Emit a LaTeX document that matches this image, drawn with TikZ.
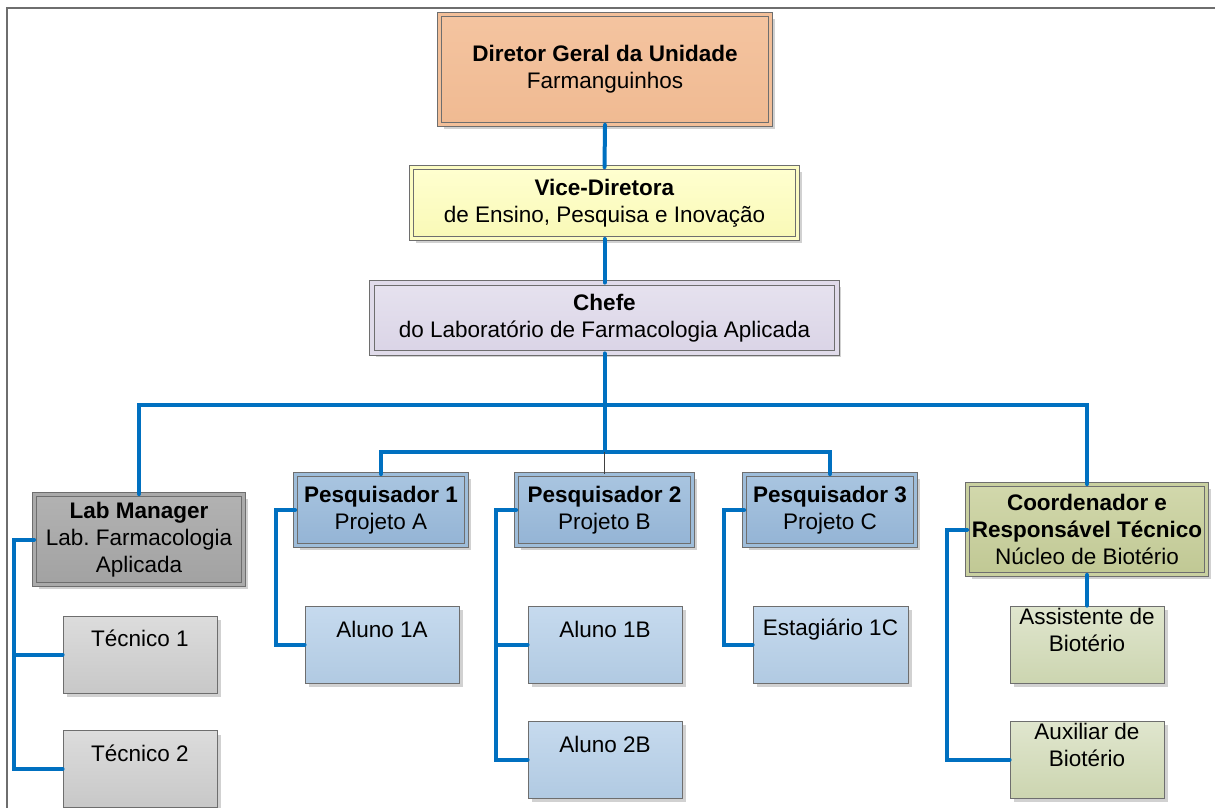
\documentclass[tikz,border=0pt]{standalone}
\usepackage{fontspec}
\setmainfont{Liberation Sans}
\usetikzlibrary{positioning,calc,shadows}
\frenchspacing

\definecolor{connblue}{HTML}{0070C0}
\definecolor{framegray}{HTML}{6E6E6E}
\definecolor{dirtop}{HTML}{F4C4A0}
\definecolor{dirbot}{HTML}{F0BA92}
\definecolor{vicetop}{HTML}{FFFFD0}
\definecolor{vicebot}{HTML}{F9F9B6}
\definecolor{cheftop}{HTML}{E6E2EF}
\definecolor{chefbot}{HTML}{DAD4E6}
\definecolor{labtop}{HTML}{B2B2B2}
\definecolor{labbot}{HTML}{A2A2A2}
\definecolor{tectop}{HTML}{DCDCDC}
\definecolor{tecbot}{HTML}{C8C8C8}
\definecolor{pestop}{HTML}{A9C5E0}
\definecolor{pesbot}{HTML}{94B4D5}
\definecolor{alutop}{HTML}{C6DAEE}
\definecolor{alubot}{HTML}{B1CAE2}
\definecolor{cootop}{HTML}{D2D8AC}
\definecolor{coobot}{HTML}{C0C894}
\definecolor{bittop}{HTML}{E0E6CE}
\definecolor{bitbot}{HTML}{CCD5B0}

\tikzset{
    box/.style 2 args={draw=framegray, line width=0.8pt, inner sep=0pt, align=center,
        top color=#1, bottom color=#2,
        drop shadow={shadow xshift=4pt, shadow yshift=-4pt, fill=black!18, opacity=1}},
    mainbox/.style 2 args={box={#1}{#2}, double=#1!50!#2, double distance=3.5pt},
    txt/.style={inner sep=0pt, align=center},
    conn/.style={draw=connblue, line width=4pt, line cap=round},
    thinconn/.style={draw=black!75, line width=1pt}
}

\begin{document}
\begin{tikzpicture}[x=1pt, y=-1pt, font=\fontsize{22.5}{27}\selectfont]
    \useasboundingbox (0,0) rectangle (1215,807);
    \clip (0,0) rectangle (1215,807);

    % Frame
    \draw[framegray, line width=2pt] (7,830) -- (7,8) -- (1230,8);

    % Top of the chart
    \node[mainbox={dirtop}{dirbot}, minimum width=331pt, minimum height=110pt] (dir) at (605,69.5)
        {\textbf{Diretor Geral da Unidade}\\Farmanguinhos};
    \node[mainbox={vicetop}{vicebot}, minimum width=386pt, minimum height=71pt] (vice) at (604.5,203)
        {\textbf{Vice-Diretora}\\de Ensino, Pesquisa e Inovação};
    \node[mainbox={cheftop}{chefbot}, minimum width=465pt, minimum height=70pt] (chefe) at (604.5,318)
        {\textbf{Chefe}\\do Laboratório de Farmacologia Aplicada};

    % Second level
    \node[mainbox={labtop}{labbot}, minimum width=209pt, minimum height=90pt] (lab) at (139,539.5)
        {\textbf{Lab Manager}\\Lab. Farmacologia\\Aplicada};
    \node[mainbox={pestop}{pesbot}, minimum width=171pt, minimum height=71pt] (p1) at (381,510)
        {\textbf{Pesquisador 1}\\Projeto A};
    \node[mainbox={pestop}{pesbot}, minimum width=176pt, minimum height=71pt] (p2) at (604.5,510)
        {\textbf{Pesquisador 2}\\Projeto B};
    \node[mainbox={pestop}{pesbot}, minimum width=171pt, minimum height=71pt] (p3) at (830,510)
        {\textbf{Pesquisador 3}\\Projeto C};
    \node[mainbox={cootop}{coobot}, minimum width=239pt, minimum height=90pt] (coord) at (1087,529.5)
        {\textbf{Coordenador e}\\\textbf{Responsável Técnico}\\Núcleo de Biotério};

    % Third level
    \node[box={tectop}{tecbot}, minimum width=154pt, minimum height=77pt] (t1) at (140,654.5) {};
    \node[box={tectop}{tecbot}, minimum width=154pt, minimum height=77pt] (t2) at (140,769) {};
    \node[box={alutop}{alubot}, minimum width=154pt, minimum height=77pt] (a1a) at (382,644.5) {};
    \node[box={alutop}{alubot}, minimum width=154pt, minimum height=77pt] (a1b) at (605,644.5) {};
    \node[box={alutop}{alubot}, minimum width=154pt, minimum height=77pt] (a2b) at (605,759.5) {};
    \node[box={alutop}{alubot}, minimum width=155pt, minimum height=77pt] (e1c) at (830.5,644.5) {};
    \node[box={bittop}{bitbot}, minimum width=154pt, minimum height=77pt] (asst) at (1087,644.5) {};
    \node[box={bittop}{bitbot}, minimum width=154pt, minimum height=77pt] (aux) at (1087,759.5) {};

    \node[txt] (t1txt) at ([yshift=-23pt]t1.north) {Técnico 1};
    \node[txt] (t2txt) at ([yshift=-23pt]t2.north) {Técnico 2};
    \node[txt] (a1atxt) at ([yshift=-24pt]a1a.north) {Aluno 1A};
    \node[txt] (a1btxt) at ([yshift=-24pt]a1b.north) {Aluno 1B};
    \node[txt] (a2btxt) at ([yshift=-24pt]a2b.north) {Aluno 2B};
    \node[txt] (e1ctxt) at ([yshift=-24pt]e1c.north) {Estagiário 1C};
    \node[txt] (assttxt) at ([yshift=-24pt]asst.north) {Assistente de\\Biotério};
    \node[txt] (auxtxt) at ([yshift=-24pt]aux.north) {Auxiliar de\\Biotério};

    % Connections
    \coordinate (bus1) at (604.5,405);
    \coordinate (bus2) at (604.5,452);
    \draw[conn] (dir.south) -- (vice.north);
    \draw[conn] (vice.south) -- (chefe.north);
    \draw[conn] (chefe.south) -- (bus2);
    \draw[conn] (lab.north) |- (bus1) -| (coord.north);
    \draw[conn] (p1.north) |- (bus2) -| (p3.north);
    \draw[thinconn] (bus2) -- (p2.north);

    % Branches to the left of each box
    \draw[conn] (lab.west) -- ++(-20,0) coordinate (labrail) |- (t2.west);
    \draw[conn] (labrail |- t1.west) -- (t1.west);
    \draw[conn] (p1.west) -- ++(-19,0) |- (a1a.west);
    \draw[conn] (p2.west) -- ++(-20,0) coordinate (p2rail) |- (a2b.west);
    \draw[conn] (p2rail |- a1b.west) -- (a1b.west);
    \draw[conn] (p3.west) -- ++(-20,0) |- (e1c.west);
    \draw[conn] (coord.west) -- ++(-20,0) |- (aux.west);
    \draw[conn] (coord.south) -- (asst.north);
\end{tikzpicture}
\end{document}
